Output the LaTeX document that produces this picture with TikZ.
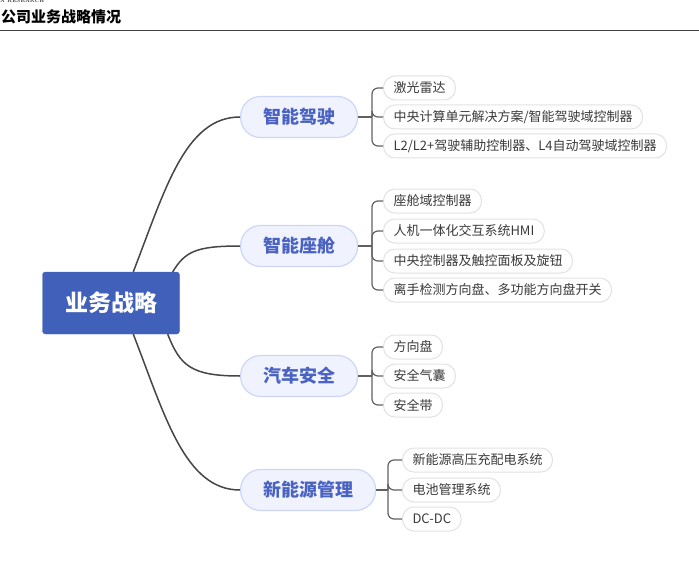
\documentclass[tikz,border=0pt]{standalone}
\usepackage{fontspec}
\newfontfamily\cjk{Noto Sans CJK SC}
\usepackage{xcolor}
\usetikzlibrary{positioning,calc}

\definecolor{rootblue}{HTML}{4160BA}
\definecolor{topictext}{HTML}{4A62C2}
\definecolor{topicfill}{HTML}{F0F3FE}
\definecolor{topicline}{HTML}{CCD6FA}
\definecolor{leafline}{HTML}{E2E2E2}
\definecolor{leaftext}{HTML}{3A3A3A}
\definecolor{wiregray}{HTML}{454545}

\tikzset{
  rootbox/.style={fill=rootblue, draw=rootblue, rounded corners=3pt, minimum width=137pt,
    minimum height=62pt, text=white, font=\cjk\bfseries\fontsize{23}{23}\selectfont},
  topic/.style={fill=topicfill, draw=topicline, line width=1.2pt, rounded corners=20pt,
    minimum height=41pt, inner xsep=22.5pt, anchor=west, text=topictext,
    font=\cjk\bfseries\fontsize{18}{18}\selectfont},
  leaf/.style={fill=white, draw=leafline, line width=1pt, rounded corners=11.5pt,
    minimum height=24pt, inner xsep=10pt, anchor=west, text=leaftext,
    font=\cjk\fontsize{13}{13}\selectfont},
  wire/.style={draw=wiregray, line width=1.5pt},
  bracket/.style={draw=wiregray!85, line width=1.2pt, rounded corners=6pt},
}

\begin{document}
\begin{tikzpicture}[x=1pt, y=-1pt]
    \useasboundingbox (0,0) rectangle (699,583);

    % En-tête
    \node[anchor=south west, inner sep=0pt, font=\tiny] (brand) at (0,3) {N RESEARCH};
    \node[anchor=west, inner sep=0pt, font=\cjk\bfseries\fontsize{15}{15}\selectfont] (title) at (1,17) {公司业务战略情况};
    \draw[line width=1pt, black!75] (0,31) -- (699,31);

    % Racine et thèmes
    \node[rootbox] (root) at (111,303) {业务战略};
    \node[topic] (drive) at (240,117) {智能驾驶};
    \node[topic] (cabin) at (240,246) {智能座舱};
    \node[topic] (safety) at (240,376) {汽车安全};
    \node[topic] (energy) at (240,490) {新能源管理};

    % Liens racine -> thèmes
    \draw[wire] ($(root.north west)+(91,0)$) .. controls (165,190) and (185,117) .. (drive.west);
    \draw[wire] ($(root.north east)+(-7,0)$) .. controls (185,252) and (195,246) .. (cabin.west);
    \draw[wire] ($(root.south east)+(-12,0)$) .. controls (180,365) and (190,376) .. (safety.west);
    \draw[wire] ($(root.south west)+(91,0)$) .. controls (165,416) and (185,490) .. (energy.west);

    % Feuilles
    \coordinate (driveStem) at (372,117);
    \draw[bracket] (drive.east) -- (driveStem);
    \foreach \name/\y/\txt in {lidar/88/激光雷达, cpu/117/{中央计算单元解决方案/智能驾驶域控制器}, adas/146/{L2/L2+驾驶辅助控制器、L4自动驾驶域控制器}} {
        \node[leaf] (\name) at (383,\y) {\txt};
        \draw[bracket] (driveStem) |- (\name.west);
    }

    \coordinate (cabinStem) at (372,246);
    \draw[bracket] (cabin.east) -- (cabinStem);
    \foreach \name/\y/\txt in {dcu/201/座舱域控制器, hmi/231/人机一体化交互系统HMI, panel/261/中央控制器及触控面板及旋钮, wheel/290/离手检测方向盘、多功能方向盘开关} {
        \node[leaf] (\name) at (383,\y) {\txt};
        \draw[bracket] (cabinStem) |- (\name.west);
    }

    \coordinate (safetyStem) at (372,376);
    \draw[bracket] (safety.east) -- (safetyStem);
    \foreach \name/\y/\txt in {steer/347/方向盘, airbag/376/安全气囊, belt/405/安全带} {
        \node[leaf] (\name) at (383,\y) {\txt};
        \draw[bracket] (safetyStem) |- (\name.west);
    }

    \coordinate (energyStem) at (388,490);
    \draw[bracket] (energy.east) -- (energyStem);
    \foreach \name/\y/\txt in {hv/460/新能源高压充配电系统, bms/490/电池管理系统, dcdc/519/DC-DC} {
        \node[leaf] (\name) at (402,\y) {\txt};
        \draw[bracket] (energyStem) |- (\name.west);
    }
\end{tikzpicture}
\end{document}
